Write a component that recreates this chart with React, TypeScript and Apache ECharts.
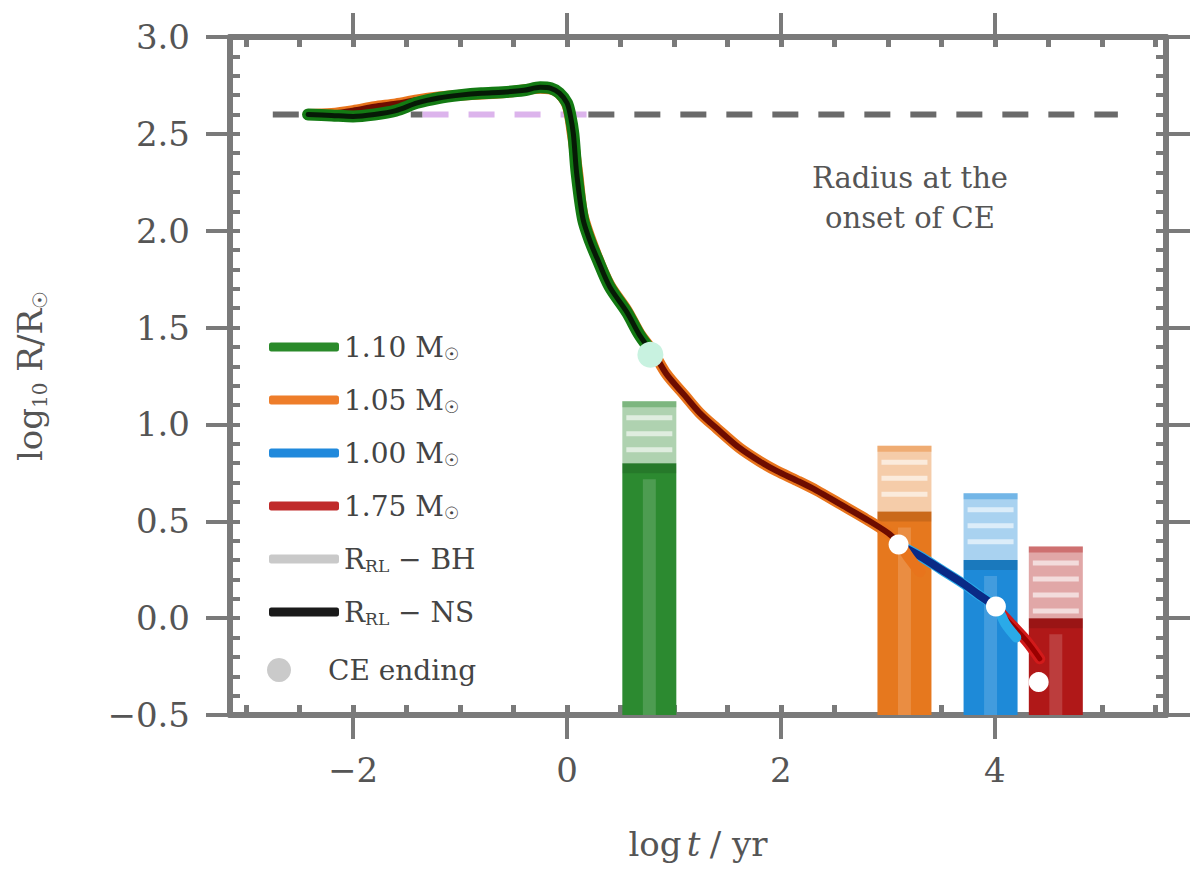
import React, { useEffect, useRef } from "react";
import * as echarts from "echarts";

// ---- axes ----
const X_MIN = -3.15;
const X_MAX = 5.6;
const Y_MIN = -0.5;
const Y_MAX = 3.0;
const X_MAJOR = [-2, 0, 2, 4];
const X_MINOR = [-3, -2.5, -2, -1.5, -1, -0.5, 0, 0.5, 1, 1.5, 2, 2.5, 3, 3.5, 4, 4.5, 5, 5.5];
const Y_MINOR = [-0.4, -0.3, -0.2, -0.1, 0, 0.1, 0.2, 0.3, 0.4, 0.5, 0.6, 0.7, 0.8, 0.9, 1.0, 1.1, 1.2, 1.3, 1.4, 1.5, 1.6, 1.7, 1.8, 1.9, 2.0, 2.1, 2.2, 2.3, 2.4, 2.5, 2.6, 2.7, 2.8, 2.9];

// ---- tracks (log t, log R) ----
const TRACK_NAMES = ["1.10 M", "1.05 M", "1.00 M", "1.75 M"];

const GREEN_T = [-2.42, -2.2, -2.0, -1.8, -1.6, -1.4, -1.2, -1.0, -0.8, -0.6, -0.4, -0.25, -0.15, -0.07, 0.0, 0.03, 0.06, 0.09, 0.15, 0.22, 0.28, 0.4, 0.56, 0.68, 0.8];
const GREEN_R = [2.6, 2.595, 2.59, 2.6, 2.62, 2.66, 2.685, 2.7, 2.71, 2.715, 2.725, 2.74, 2.735, 2.71, 2.66, 2.6, 2.5, 2.3, 2.06, 1.94, 1.86, 1.71, 1.58, 1.46, 1.37];

const ORANGE_T = [-2.42, -2.2, -2.0, -1.8, -1.6, -1.4, -1.2, -1.0, -0.6, -0.25, -0.1, 0.0, 0.05, 0.1, 0.15, 0.28, 0.4, 0.56, 0.68, 0.8, 0.93, 1.1, 1.24, 1.4, 1.61, 1.8, 1.96, 2.15, 2.33, 2.55, 2.8, 3.0, 3.1, 3.2, 3.3];
const ORANGE_R = [2.6, 2.605, 2.62, 2.64, 2.655, 2.675, 2.69, 2.7, 2.712, 2.735, 2.72, 2.65, 2.5, 2.3, 2.08, 1.87, 1.72, 1.59, 1.47, 1.38, 1.26, 1.15, 1.06, 0.98, 0.88, 0.81, 0.76, 0.71, 0.66, 0.59, 0.51, 0.44, 0.39, 0.31, 0.24];

const BLUE_T = [3.1, 3.3, 3.5, 3.7, 3.85, 4.01, 4.1, 4.2];
const BLUE_R = [0.38, 0.32, 0.25, 0.18, 0.12, 0.06, -0.03, -0.1];

const RED_T = [4.03, 4.15, 4.3, 4.42];
const RED_R = [0.04, -0.03, -0.12, -0.21];

// ---- CE ending points ----
const CE_T = [0.78, 3.1, 4.01, 4.41];
const CE_R = [1.36, 0.38, 0.06, -0.33];

// ---- Roche-lobe bars ----
const BAR_T = [0.77, 3.155, 3.96, 4.57];
const BAR_NS = [0.8, 0.55, 0.3, 0.0];
const BAR_BH = [1.12, 0.89, 0.645, 0.37];

// ---- reference radius ----
const REF_R = 2.6;
const REF_T_SEGMENTS = [[-2.75, -1.35], [-1.35, 0.2], [0.2, 5.15]];

const FONT = "DejaVu Serif";
const AXIS_COLOR = "#7a7a7a";

const pts = (t: number[], r: number[]) => t.map((v, i) => [v, r[i]]);

export default function App() {
  const ref = useRef<HTMLDivElement>(null);
  useEffect(() => {
    document.body.style.margin = "0";
    const chart = echarts.init(ref.current!, null, { renderer: "svg" });

    const trackColors = [
      { outer: "#137a13", core: "#061a06", legend: "#2a8a2a" },
      { outer: "#e8741c", core: "#6e0c00", legend: "#ee7d2a" },
      { outer: "#2aaae8", core: "#0a2a86", legend: "#2089dc" },
      { outer: "#d21a1a", core: "#9a0000", legend: "#c02a2a" },
    ];
    const barColors = [
      { dark: "#2c8a30", light: "rgba(44,138,48,0.38)", stripe: "rgba(255,255,255,0.6)" },
      { dark: "#e6781e", light: "rgba(230,120,30,0.38)", stripe: "rgba(255,255,255,0.6)" },
      { dark: "#1e8ad8", light: "rgba(30,138,216,0.38)", stripe: "rgba(255,255,255,0.6)" },
      { dark: "#b01818", light: "rgba(176,24,24,0.38)", stripe: "rgba(255,255,255,0.6)" },
    ];
    const ceColors = ["#c8f2e0", "#ffffff", "#ffffff", "#ffffff"];

    const lineSeries = (name: string, data: number[][], color: string, width: number, z: number) => ({
      type: "line",
      name,
      data,
      showSymbol: false,
      symbol: "none",
      smooth: 0.3,
      color,
      lineStyle: { color, width, cap: "round", join: "round" },
      z,
    });

    const orangePts = pts(ORANGE_T, ORANGE_R);
    const bluePts = pts(BLUE_T, BLUE_R);

    const tickLabel = (v: number, dec: number) =>
      v < 0 ? "\u2212" + Math.abs(v).toFixed(dec) : v.toFixed(dec);

    const labelStyle = { fontFamily: FONT, fontSize: 34, color: "#555" };

    const mainX = (pos: string, showLabel: boolean) => ({
      type: "value",
      position: pos,
      min: X_MIN,
      max: X_MAX,
      axisLine: { show: true, onZero: false, lineStyle: { color: AXIS_COLOR, width: 6 } },
      axisTick: { show: true, inside: false, length: 24, customValues: X_MAJOR, lineStyle: { color: AXIS_COLOR, width: 4 } },
      axisLabel: { show: showLabel, customValues: X_MAJOR, margin: 38, formatter: (v: number) => tickLabel(v, 0), ...labelStyle },
      splitLine: { show: false },
    });
    const minorX = (pos: string) => ({
      type: "value",
      position: pos,
      min: X_MIN,
      max: X_MAX,
      axisLine: { show: false, onZero: false },
      axisTick: { show: true, inside: true, length: 10, customValues: X_MINOR, lineStyle: { color: AXIS_COLOR, width: 5 } },
      axisLabel: { show: false },
      splitLine: { show: false },
    });
    const mainY = (pos: string, showLabel: boolean) => ({
      type: "value",
      position: pos,
      min: Y_MIN,
      max: Y_MAX,
      interval: 0.5,
      axisLine: { show: true, onZero: false, lineStyle: { color: AXIS_COLOR, width: 6 } },
      axisTick: { show: true, inside: false, length: 24, lineStyle: { color: AXIS_COLOR, width: 4 } },
      axisLabel: { show: showLabel, margin: 40, formatter: (v: number) => tickLabel(v, 1), ...labelStyle },
      splitLine: { show: false },
    });
    const minorY = (pos: string) => ({
      type: "value",
      position: pos,
      min: Y_MIN,
      max: Y_MAX,
      axisLine: { show: false, onZero: false },
      axisTick: { show: true, inside: true, length: 10, customValues: Y_MINOR, lineStyle: { color: AXIS_COLOR, width: 4 } },
      axisLabel: { show: false },
      splitLine: { show: false },
    });

    const xMain = mainX("bottom", true) as any;
    xMain.name = "{n|log} {i|t} {n|/ yr}";
    xMain.nameLocation = "middle";
    xMain.nameGap = 112;
    xMain.nameTextStyle = {
      rich: {
        n: { fontFamily: FONT, fontSize: 34, color: "#555" },
        i: { fontFamily: FONT, fontSize: 34, color: "#555", fontStyle: "italic", padding: [0, 6, 0, 2] },
      },
    };
    const yMain = mainY("left", true) as any;
    yMain.name = "{n|log}{s|10}{n| R/R}{s|\u2609}";
    yMain.nameLocation = "middle";
    yMain.nameGap = 180;
    yMain.nameRotate = 90;
    yMain.nameTextStyle = {
      rich: {
        n: { fontFamily: FONT, fontSize: 34, color: "#555", lineHeight: 40 },
        s: { fontFamily: FONT, fontSize: 20, color: "#555", lineHeight: 40, verticalAlign: "bottom" },
      },
    };

    const legendRich = {
      t: { fontFamily: FONT, fontSize: 28, color: "#444", lineHeight: 30 },
      s: { fontFamily: FONT, fontSize: 17, color: "#444", lineHeight: 30, verticalAlign: "bottom", padding: [8, 0, 0, 0] },
    };

    const option: any = {
      animation: false,
      backgroundColor: "#ffffff",
      grid: { left: 230, right: 34, top: 37, bottom: 161, outerBoundsMode: "none", containLabel: false },
      xAxis: [xMain, mainX("top", false), minorX("bottom"), minorX("top")],
      yAxis: [yMain, mainY("right", false), minorY("left"), minorY("right")],
      legend: [
        {
          orient: "vertical",
          left: 264,
          top: 328,
          itemWidth: 70,
          itemHeight: 9,
          itemGap: 24,
          icon: "roundRect",
          selectedMode: false,
          textStyle: { rich: legendRich },
          formatter: (name: string) => {
            if (name === "RRL_BH") return "{t|R}{s|RL}{t| \u2212 BH}";
            if (name === "RRL_NS") return "{t|R}{s|RL}{t| \u2212 NS}";
            return "{t|" + name + "}{s|\u2609}";
          },
          data: [
            ...TRACK_NAMES.map((n, i) => ({ name: n, itemStyle: { color: trackColors[i].legend } })),
            { name: "RRL_BH", itemStyle: { color: "#c9c9c9" } },
            { name: "RRL_NS", itemStyle: { color: "#1a1a1a" } },
          ],
        },
        {
          orient: "vertical",
          left: 262,
          top: 650,
          itemWidth: 56,
          itemHeight: 24,
          icon: "circle",
          selectedMode: false,
          textStyle: { fontFamily: FONT, fontSize: 28, color: "#444", lineHeight: 30, padding: [0, 0, 0, 16] },
          data: [{ name: "CE ending", itemStyle: { color: "#bdbdbd" } }],
        },
      ],
      graphic: [
        {
          type: "text",
          x: 910,
          y: 198,
          style: {
            text: "Radius at the\nonset of CE",
            fontFamily: FONT,
            fontSize: 29,
            lineHeight: 40,
            fill: "#555",
            align: "center",
            verticalAlign: "middle",
          },
        },
      ],
      series: [
        {
          type: "custom",
          name: "bars",
          z: 1,
          data: BAR_T.map((t, i) => [t, BAR_NS[i], BAR_BH[i]]),
          renderItem: (params: any, api: any) => {
            const x = api.value(0);
            const ns = api.value(1);
            const bh = api.value(2);
            const c = barColors[params.dataIndex];
            const pBase = api.coord([x, Y_MIN]);
            const pNs = api.coord([x, ns]);
            const pBh = api.coord([x, bh]);
            const w = 54;
            const left = pBase[0] - w / 2;
            const children: any[] = [
              { type: "rect", shape: { x: left, y: pBh[1], width: w, height: pNs[1] - pBh[1] }, style: { fill: c.light } },
            ];
            for (let yy = pBh[1] + 14; yy < pNs[1] - 8; yy += 16) {
              children.push({ type: "rect", shape: { x: left + 4, y: yy, width: w - 8, height: 5 }, style: { fill: c.stripe } });
            }
            children.push({ type: "rect", shape: { x: left, y: pBh[1], width: w, height: 6 }, style: { fill: c.light } });
            children.push({ type: "rect", shape: { x: left, y: pNs[1], width: w, height: pBase[1] - pNs[1] }, style: { fill: c.dark } });
            children.push({ type: "rect", shape: { x: left + w * 0.38, y: pNs[1] + 16, width: w * 0.24, height: pBase[1] - pNs[1] - 16 }, style: { fill: "rgba(255,255,255,0.16)" } });
            children.push({ type: "rect", shape: { x: left, y: pNs[1], width: w, height: 10 }, style: { fill: "rgba(0,0,0,0.12)" } });
            return { type: "group", children };
          },
        },
        ...REF_T_SEGMENTS.map((seg, i) => ({
          type: "line",
          name: "ref" + i,
          data: [[seg[0], REF_R], [seg[1], REF_R]],
          showSymbol: false,
          symbol: "none",
          lineStyle: { color: i === 1 ? "#dcb4ec" : "#6a6a6a", width: 6, type: [26, 20] },
          z: 2,
        })),
        { type: "line", name: "RRL_BH", data: [], color: "#c9c9c9" },
        { type: "line", name: "RRL_NS", data: [], color: "#1a1a1a" },
        // red track
        lineSeries(TRACK_NAMES[3], pts(RED_T, RED_R), trackColors[3].outer, 11, 3),
        lineSeries("red_core", pts(RED_T, RED_R), trackColors[3].core, 5, 3),
        // blue track
        lineSeries(TRACK_NAMES[2], bluePts, trackColors[2].outer, 10, 4),
        lineSeries("blue_core", bluePts.filter((p) => p[0] <= 4.01), trackColors[2].core, 8, 4),
        // orange track
        lineSeries(TRACK_NAMES[1], orangePts, trackColors[1].outer, 11, 5),
        lineSeries("orange_core", orangePts.filter((p) => p[0] <= 3.1), trackColors[1].core, 6, 5),
        // green track
        lineSeries(TRACK_NAMES[0], pts(GREEN_T, GREEN_R), trackColors[0].outer, 12, 6),
        lineSeries("green_core", pts(GREEN_T, GREEN_R), trackColors[0].core, 5, 6),
        {
          type: "scatter",
          name: "CE ending",
          z: 8,
          symbolSize: 20,
          color: "#bdbdbd",
          data: CE_T.map((t, i) => ({ value: [t, CE_R[i]], itemStyle: { color: ceColors[i], opacity: 1 }, symbolSize: i === 0 ? 26 : 20 })),
        },
      ],
    };
    chart.setOption(option);
    return () => chart.dispose();
  }, []);
  return <div ref={ref} style={{ width: 1200, height: 876 }} />;
}
